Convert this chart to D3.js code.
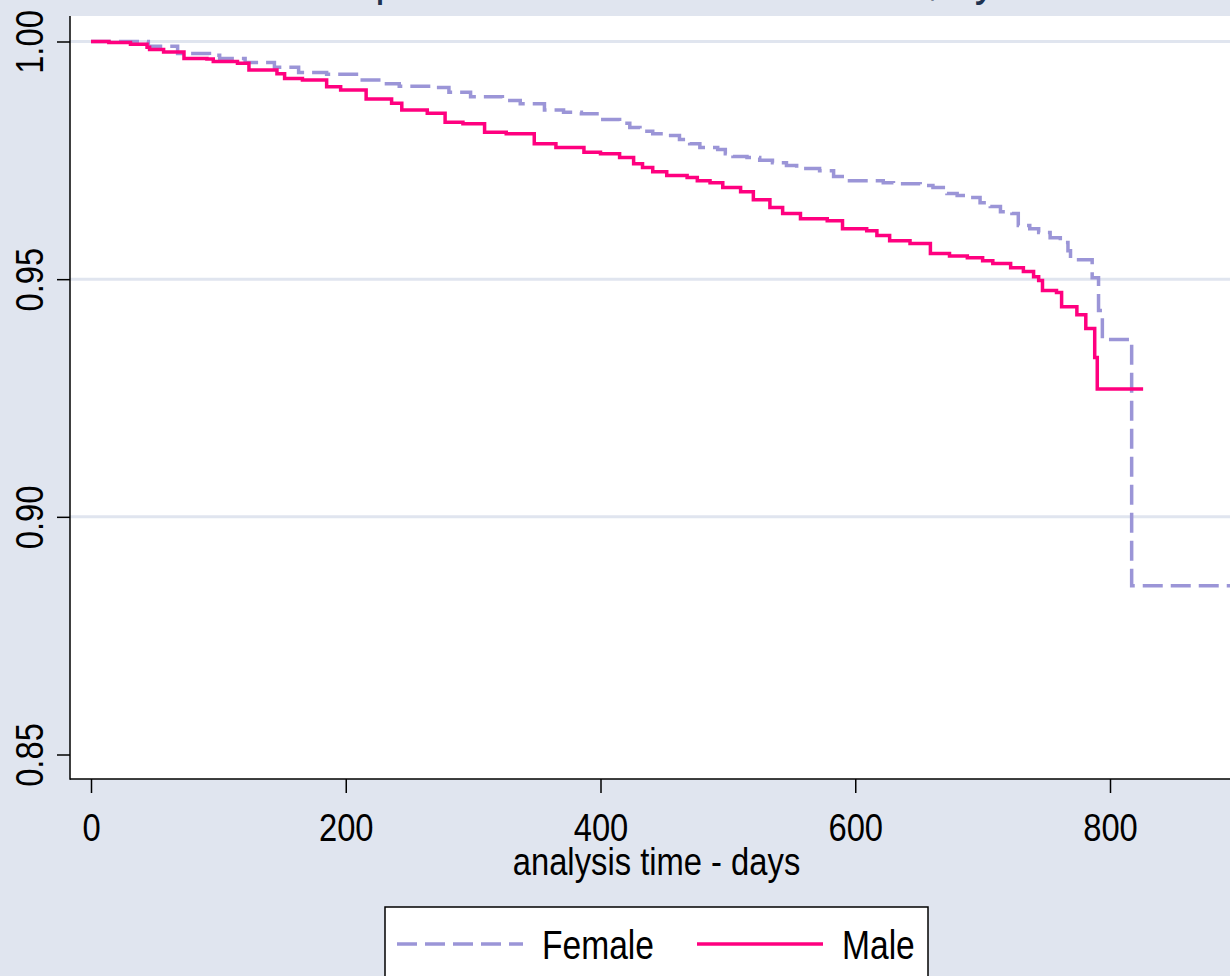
<!DOCTYPE html>
<html>
<head>
<meta charset="utf-8">
<script src="https://cdn.jsdelivr.net/npm/d3@7"></script>
<style>
  body { margin: 0; background: #e0e5ef; }
  svg { display: block; }
  text { font-family: "Liberation Sans", Arial, sans-serif; fill: #000; }
</style>
</head>
<body>
<svg id="chart" width="1230" height="976"></svg>
<script>
// chart data
const titleText = 'Kaplan-Meier survival estimates, by sex';
const xTitle = 'analysis time - days';
const xTicks = [0, 200, 400, 600, 800];
const yTicks = [0.85, 0.90, 0.95, 1.00];
const yTickLabels = ['0.85', '0.90', '0.95', '1.00'];
const gridValues = [0.90, 0.95, 1.00];
const seriesNames = ['Female', 'Male'];

const femaleDays = [0, 45, 68, 93, 101, 121, 144, 163, 185, 210, 230, 242, 267, 281, 298, 323, 337, 356, 371, 385,
  400, 415, 423, 431, 441, 452, 462, 470, 478, 492, 498, 504, 515, 525, 535, 546, 554, 572, 583, 594,
  622, 630, 651, 661, 672, 680, 688, 698, 706, 714, 723, 728, 737, 744, 753, 761, 767, 769, 786, 791, 794, 817];
const femaleSurv = [1.0, 0.9990, 0.9975, 0.9971, 0.9964, 0.9956, 0.9946, 0.9935, 0.9931, 0.9919, 0.9911, 0.9906, 0.9903, 0.9893, 0.9884, 0.9876, 0.9869, 0.9856, 0.9851, 0.9848,
  0.9836, 0.9828, 0.9819, 0.9811, 0.9806, 0.9802, 0.9794, 0.9785, 0.9777, 0.9773, 0.9764, 0.9758, 0.9756, 0.9750, 0.9745, 0.9739, 0.9733, 0.9728, 0.9716, 0.9707,
  0.9703, 0.9701, 0.9697, 0.9693, 0.9680, 0.9676, 0.9672, 0.9661, 0.9653, 0.9642, 0.9638, 0.9613, 0.9606, 0.9598, 0.9587, 0.9577, 0.9560, 0.9541, 0.9503, 0.9434, 0.9373, 0.8855];
const femaleLastTime = 905;

const maleDays = [0, 14, 31, 44, 46, 57, 73, 91, 96, 115, 124, 146, 152, 166, 185, 196, 216, 236, 244, 264,
  278, 292, 309, 326, 348, 365, 387, 400, 415, 426, 433, 441, 452, 468, 476, 486, 496, 510, 520, 533,
  543, 557, 578, 590, 609, 617, 627, 643, 659, 674, 688, 700, 708, 722, 732, 740, 744, 747, 758, 762, 774, 781, 788, 790];
const maleSurv = [1.0, 0.9998, 0.9994, 0.9988, 0.9983, 0.9978, 0.9964, 0.9963, 0.9958, 0.9954, 0.9940, 0.9932, 0.9922, 0.9919, 0.9905, 0.9898, 0.9879, 0.9870, 0.9856, 0.9849,
  0.9830, 0.9827, 0.9809, 0.9806, 0.9785, 0.9777, 0.9767, 0.9764, 0.9756, 0.9743, 0.9735, 0.9726, 0.9718, 0.9714, 0.9707, 0.9703, 0.9693, 0.9684, 0.9667, 0.9651,
  0.9638, 0.9627, 0.9623, 0.9606, 0.9602, 0.9592, 0.9581, 0.9575, 0.9554, 0.9549, 0.9545, 0.9539, 0.9533, 0.9524, 0.9516, 0.9505, 0.9497, 0.9476, 0.9472, 0.9442, 0.9425, 0.9396, 0.9335, 0.9269];
const maleLastTime = 826;

// layout
const plot = {left: 70, top: 16, right: 1245, bottom: 779};
const colors = {Female: '#9b95d7', Male: '#ff007f'};
const narrow = 'scale(0.84,1)';

const svg = d3.select('#chart');

const x = d3.scaleLinear().domain([0, 800]).range([91, 1110]);
const y = d3.scaleLinear().domain([0.85, 1.0]).range([754.5, 41.5]);

// plot region
svg.append('rect')
  .attr('x', plot.left).attr('y', plot.top)
  .attr('width', plot.right - plot.left).attr('height', plot.bottom - plot.top)
  .attr('fill', '#fff');

svg.append('g').selectAll('line')
  .data(gridValues)
  .enter().append('line')
  .attr('x1', plot.left).attr('x2', plot.right)
  .attr('y1', d => y(d)).attr('y2', d => y(d))
  .attr('stroke', '#e0e5ef').attr('stroke-width', 3);

// title (mostly cut off by the top edge)
svg.append('text')
  .attr('transform', 'translate(323,-6) scale(0.82,1)')
  .attr('font-size', 52)
  .style('fill', '#1e3250')
  .text(titleText);

// axes
const yAxis = d3.axisLeft(y).tickValues(yTicks).tickSize(13).tickSizeOuter(0)
  .tickFormat((d, i) => yTickLabels[i]);
const yG = svg.append('g').attr('transform', `translate(${plot.left},0)`).call(yAxis);
yG.select('.domain').remove();
yG.selectAll('.tick line').attr('stroke', '#000').attr('stroke-width', 1.5);
yG.selectAll('.tick text')
  .attr('x', 0).attr('y', 0).attr('dy', null)
  .attr('text-anchor', 'middle')
  .attr('font-size', 39)
  .attr('transform', `translate(-27,0) rotate(-90) ${narrow}`);

const xAxis = d3.axisBottom(x).tickValues(xTicks).tickSize(14).tickSizeOuter(0);
const xG = svg.append('g').attr('transform', `translate(0,${plot.bottom})`).call(xAxis);
xG.select('.domain').remove();
xG.selectAll('.tick line').attr('stroke', '#000').attr('stroke-width', 1.5);
xG.selectAll('.tick text')
  .attr('y', 0).attr('dy', null)
  .attr('font-size', 39)
  .attr('transform', `translate(0,62) ${narrow}`);

svg.append('line')
  .attr('x1', plot.left).attr('x2', plot.left)
  .attr('y1', plot.top).attr('y2', plot.bottom + 0.75)
  .attr('stroke', '#000').attr('stroke-width', 1.5);
svg.append('line')
  .attr('x1', plot.left).attr('x2', plot.right)
  .attr('y1', plot.bottom).attr('y2', plot.bottom)
  .attr('stroke', '#000').attr('stroke-width', 1.5);

svg.append('text')
  .attr('transform', `translate(${(x(0) + 1222) / 2},875) ${narrow}`)
  .attr('text-anchor', 'middle')
  .attr('font-size', 39)
  .text(xTitle);

// survival curves
function points(days, surv, lastTime) {
  const pts = days.map((d, i) => [d, surv[i]]);
  pts.push([lastTime, surv[surv.length - 1]]);
  return pts;
}
const line = d3.line()
  .x(d => x(d[0]))
  .y(d => y(d[1]))
  .curve(d3.curveStepAfter);

const series = [
  {name: 'Female', pts: points(femaleDays, femaleSurv, femaleLastTime), dash: '20,8'},
  {name: 'Male', pts: points(maleDays, maleSurv, maleLastTime), dash: null}
];

svg.append('g').selectAll('path')
  .data(series)
  .enter().append('path')
  .attr('d', d => line(d.pts))
  .attr('fill', 'none')
  .attr('stroke', d => colors[d.name])
  .attr('stroke-width', 3.5)
  .attr('stroke-dasharray', d => d.dash);

// legend
const legend = svg.append('g');
legend.append('rect')
  .attr('x', 385).attr('y', 907).attr('width', 543).attr('height', 90)
  .attr('fill', '#fff').attr('stroke', '#000').attr('stroke-width', 1.5);

const legendX = d3.scaleOrdinal().domain(seriesNames).range([397, 697]);
legend.selectAll('.key')
  .data(series)
  .enter().append('g')
  .attr('class', 'key')
  .attr('transform', d => `translate(${legendX(d.name)},944)`)
  .each(function (d) {
    const g = d3.select(this);
    g.append('line')
      .attr('x1', 0).attr('x2', 126).attr('y1', 0).attr('y2', 0)
      .attr('stroke', colors[d.name]).attr('stroke-width', 3.5)
      .attr('stroke-dasharray', d.dash);
    g.append('text')
      .attr('transform', `translate(145,15) ${narrow}`)
      .attr('font-size', 40)
      .text(d.name);
  });
</script>
</body>
</html>
